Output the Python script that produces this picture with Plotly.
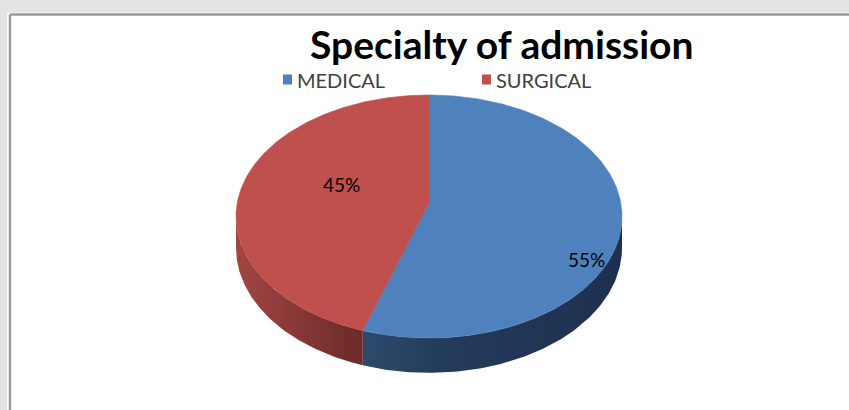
import numpy as np
import plotly.graph_objects as go

# ---------------- data ----------------
categories = ["MEDICAL", "SURGICAL"]
values = [55, 45]
title_text = "Specialty of admission"

# ---------------- styles ----------------
top_colors = ["#4F81BD", "#C0504D"]
side_scales = [
    [[0, "#2D4A6C"], [0.35, "#233A59"], [1, "#1E3050"]],
    [[0, "#A14543"], [1, "#6C2A28"]],
]
W, H = 849, 410
FONT = "Lato"

# projection geometry (pixel space)
cx, cy = 429.0, 203.0        # hub of the pie
A, B = 191.8, 120.0          # radii
k = 0.111                    # perspective factor
D = 31.0                     # thickness


def proj(theta_deg, r=1.0, dz=0.0):
    t = np.radians(theta_deg)
    u = r * np.sin(t)
    v = r * np.cos(t)
    w = 1 + k * v
    return cx + A * u / w, cy + (-B * v + D * dz) / w


fracs = np.array(values, dtype=float) / sum(values)
bounds = np.concatenate([[0], np.cumsum(fracs) * 360])
sil_r = np.degrees(np.arccos(-k))        # right silhouette angle
sil_l = 360 - sil_r                      # left silhouette angle

fig = go.Figure()

# side walls
for i in range(len(values)):
    a0 = max(bounds[i], sil_r)
    a1 = min(bounds[i + 1], sil_l)
    if a1 <= a0:
        continue
    th = np.linspace(a0, a1, 120)
    xt, yt = proj(th)
    xb, yb = proj(th[::-1], dz=1)
    xs = np.concatenate([xt, xb, xt[:1]])
    ys = np.concatenate([yt, yb, yt[:1]])
    fig.add_trace(go.Scatter(
        x=xs, y=ys, mode="lines", fill="toself",
        line=dict(width=0, color=top_colors[i]),
        fillgradient=dict(type="horizontal", colorscale=side_scales[i]),
        hoverinfo="skip", showlegend=False))

# top faces
for i in range(len(values)):
    th = np.linspace(bounds[i], bounds[i + 1], 200)
    xr, yr = proj(th)
    xs = np.concatenate([[cx], xr, [cx]])
    ys = np.concatenate([[cy], yr, [cy]])
    fig.add_trace(go.Scatter(
        x=xs, y=ys, mode="lines", fill="toself",
        fillcolor=top_colors[i], line=dict(width=0.6, color=top_colors[i]),
        name=categories[i], hoverinfo="skip", showlegend=False))

# percentage labels (label anchor per slice: angle offset, radius, dx, dy)
label_place = [(0, 0.86, -8, 40), (-4, 0.47, 2, -14)]
for i, v in enumerate(values):
    mid = (bounds[i] + bounds[i + 1]) / 2 + label_place[i][0]
    lx, ly = proj(mid, r=label_place[i][1])
    fig.add_annotation(x=lx + label_place[i][2], y=ly + label_place[i][3],
                       text=f"{v}%", showarrow=False, xref="x", yref="y",
                       font=dict(family=FONT, size=19, color="#000000"))

# title
fig.add_annotation(x=502, y=44, xref="x", yref="y", text=f"<b>{title_text}</b>",
                   showarrow=False, yanchor="middle",
                   font=dict(family=FONT, size=39, color="#000000"))

# legend (manual)
leg_x = [283, 482]
for i, c in enumerate(categories):
    fig.add_shape(type="rect", xref="x", yref="y", x0=leg_x[i], x1=leg_x[i] + 9,
                  y0=74.5, y1=84.5, fillcolor=top_colors[i], line=dict(width=0))
    fig.add_annotation(x=leg_x[i] + 12, y=80, xref="x", yref="y", text=c,
                       showarrow=False, xanchor="left", yanchor="middle",
                       font=dict(family=FONT, size=20, color="#404040"))

# frame / surrounding
fig.add_shape(type="rect", xref="x", yref="y", x0=0, x1=W, y0=0, y1=12.5,
              fillcolor="#E3E3E3", line=dict(width=0), layer="below")
fig.add_shape(type="rect", xref="x", yref="y", x0=0, x1=7, y0=0, y1=H,
              fillcolor="#E3E3E3", line=dict(width=0), layer="below")
fig.add_shape(type="line", xref="x", yref="y", x0=10, x1=W, y0=14.5, y1=14.5,
              line=dict(color="#9A9A9A", width=2.5), layer="below")
fig.add_shape(type="line", xref="x", yref="y", x0=10, x1=10, y0=14.5, y1=H,
              line=dict(color="#9A9A9A", width=2.5), layer="below")

fig.update_layout(
    width=W, height=H, autosize=False,
    margin=dict(l=0, r=0, t=0, b=0),
    paper_bgcolor="#FFFFFF", plot_bgcolor="#FFFFFF",
    xaxis=dict(range=[0, W], visible=False, fixedrange=True),
    yaxis=dict(range=[H, 0], visible=False, fixedrange=True),
    showlegend=False,
)

fig.write_html("out.html", config={"displayModeBar": False},
               post_script="document.body.style.margin='0';")
